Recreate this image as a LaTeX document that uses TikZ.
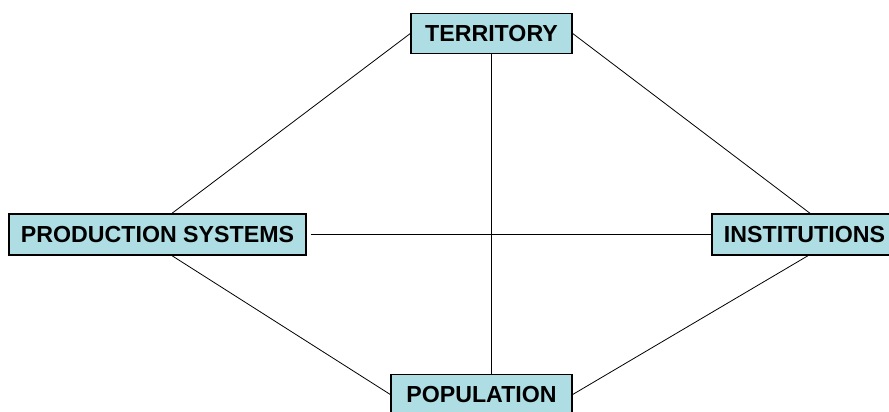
\documentclass[tikz,border=0pt]{standalone}
\usepackage{fontspec}
\setmainfont{Liberation Sans}
\definecolor{boxfill}{RGB}{174,222,228}
\begin{document}
\begin{tikzpicture}[x=1pt,y=-1pt,
  box/.style={draw=black, fill=boxfill, line width=1.4pt, inner sep=0pt,
    text height=16.6pt, text depth=0pt,
    font=\fontsize{23.2}{27}\selectfont\bfseries},
  link/.style={draw=black, line width=0.8pt}]
\useasboundingbox (0,0) rectangle (889,412);
\node[box, minimum width=161pt, minimum height=40pt] (terr) at (491.5,33.5) {TERRITORY};
\node[box, minimum width=297pt, minimum height=41pt] (prod) at (157.5,234.5) {PRODUCTION SYSTEMS};
\node[box, minimum width=185pt, minimum height=41pt] (inst) at (804.5,234.5) {INSTITUTIONS};
\node[box, minimum width=181pt, minimum height=40pt] (pop) at (481.5,394.5) {POPULATION};
\draw[link] (terr.west) -- ([xshift=14.5pt]prod.north);
\draw[link] (terr.east) -- ([xshift=5.5pt]inst.north);
\draw[link] ([xshift=14.5pt]prod.south) -- (pop.west);
\draw[link] ([xshift=3.5pt]inst.south) -- (pop.east);
\draw[link] (terr.south) -- (terr.south |- pop.north);
\draw[link] ([xshift=4pt]prod.east) -- (prod.east -| inst.west);
\end{tikzpicture}
\end{document}
